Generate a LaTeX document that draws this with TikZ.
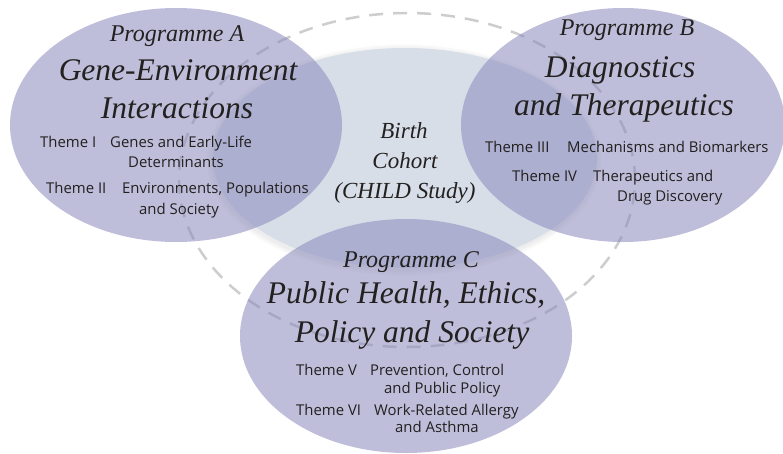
\documentclass[tikz,border=0pt]{standalone}
\usepackage{fontspec}
\setmainfont{Liberation Serif}
\newfontfamily\themefont{Open Sans}
\usetikzlibrary{shapes.geometric}
\definecolor{progc}{RGB}{139,139,189}
\definecolor{cohortc}{RGB}{215,222,232}
\definecolor{dashc}{RGB}{205,205,208}
\definecolor{ink}{RGB}{35,32,32}
\begin{document}
\begin{tikzpicture}[x=1pt,y=-1pt,
  blob/.style={ellipse, inner sep=0pt, draw=none},
  progblob/.style={blob, fill=progc, fill opacity=0.56},
  ptitle/.style={font=\fontsize{24}{28}\selectfont\itshape, text=ink, anchor=base, inner sep=0pt},
  bigtitle/.style={font=\fontsize{31.5}{36}\selectfont\itshape, text=ink, anchor=base, inner sep=0pt},
  cohorttext/.style={font=\fontsize{23}{27}\selectfont\itshape, text=ink, anchor=base, inner sep=0pt},
  themetext/.style={font=\themefont\fontsize{14.9}{17}\selectfont, text=ink, anchor=base west, inner sep=0pt},
]
\useasboundingbox (0,0) rectangle (783,453);

% dashed outer ring
\node[blob, draw=dashc, line width=2.5pt, dash pattern=on 14pt off 10pt,
      minimum width=456pt, minimum height=334pt] (ring) at (407,180) {};

% soft shadow of the cohort ellipse
\foreach \i in {1,...,6}{
  \node[blob, fill=black, fill opacity=0.01,
        minimum width={384pt+2*\i pt}, minimum height={220pt+2*\i pt}] at (404,160) {};
}
% central cohort ellipse
\node[blob, fill=cohortc, minimum width=384pt, minimum height=220pt] (cohort) at (405,158) {};

% programme ellipses
\node[progblob, minimum width=332pt, minimum height=234pt] (A) at (176,125) {};
\node[progblob, minimum width=324pt, minimum height=234pt] (B) at (623,125) {};
\node[progblob, minimum width=332pt, minimum height=234pt] (C) at (406,336) {};

% central text
\node[cohorttext] (c1) at (404,138) {Birth};
\node[cohorttext] (c2) at (405,168) {Cohort};
\node[cohorttext] (c3) at (405,198) {(CHILD Study)};

% Programme A
\node[ptitle] (pa) at (177,41) {Programme A};
\node[bigtitle] (ta1) at (178,80) {Gene-Environment};
\node[bigtitle] (ta2) at (177,118) {Interactions};
\node[themetext] (th1) at (40,147) {Theme I};
\node[themetext] (d1a) at (110,147) {Genes and Early-Life};
\node[themetext] (d1b) at (128,167) {Determinants};
\node[themetext] (th2) at (46,193) {Theme II};
\node[themetext] (d2a) at (122,193) {Environments, Populations};
\node[themetext] (d2b) at (139,214) {and Society};

% Programme B
\node[ptitle] (pb) at (627,35) {Programme B};
\node[bigtitle] (tb1) at (620,77) {Diagnostics};
\node[bigtitle] (tb2) at (624,115) {and Therapeutics};
\node[themetext] (th3) at (485,152) {Theme III};
\node[themetext] (d3a) at (567,152) {Mechanisms and Biomarkers};
\node[themetext] (th4) at (512,181) {Theme IV};
\node[themetext] (d4a) at (593,181) {Therapeutics and};
\node[themetext] (d4b) at (617,201) {Drug Discovery};

% Programme C
\node[ptitle] (pc) at (411,267) {Programme C};
\node[bigtitle] (tc1) at (406,303) {Public Health, Ethics,};
\node[bigtitle] (tc2) at (412,342) {Policy and Society};
\node[themetext] (th5) at (296,375) {Theme V};
\node[themetext] (d5a) at (370,375) {Prevention, Control};
\node[themetext] (d5b) at (384,393) {and Public Policy};
\node[themetext] (th6) at (296,415) {Theme VI};
\node[themetext] (d6a) at (374,415) {Work-Related Allergy};
\node[themetext] (d6b) at (395,432) {and Asthma};
\end{tikzpicture}
\end{document}
